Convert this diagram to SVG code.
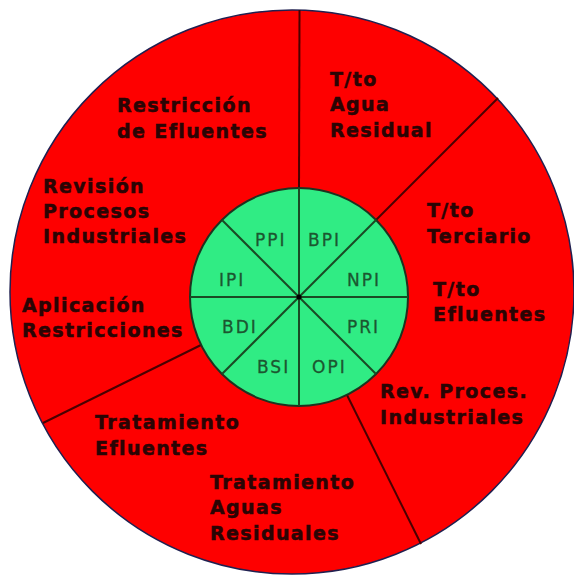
<svg xmlns="http://www.w3.org/2000/svg" width="574" height="578" viewBox="0 0 574 578">
<style>
.outer{font-family:"DejaVu Sans",Verdana,sans-serif;font-weight:bold;font-size:19px;letter-spacing:1.4px;fill:#2a0404;stroke:#2a0404;stroke-width:0.5px}
.inner{font-family:"DejaVu Sans",Verdana,sans-serif;font-size:17px;letter-spacing:2px;fill:#1c5630;stroke:#1c5630;stroke-width:0.3px}
.rline{stroke:#4a0000;stroke-width:2;fill:none}
.gline{stroke:#1a4a24;stroke-width:2;fill:none}
</style>
<rect width="574" height="578" fill="#ffffff"/>
<g id="outer-ring">
<circle cx="292" cy="292" r="282" fill="#fe0000" stroke="#202050" stroke-width="1.5"/>
</g>
<g id="outer-dividers">
<line class="rline" x1="299" y1="190" x2="299.5" y2="10"/>
<line class="rline" x1="376" y1="220" x2="498" y2="98"/>
<line class="rline" x1="201" y1="345" x2="43" y2="423"/>
<line class="rline" x1="347" y1="395" x2="421" y2="544"/>
</g>
<g id="inner-circle">
<circle cx="299" cy="297" r="109" fill="#30ec84" stroke="#1e3320" stroke-width="2"/>
<line class="gline" x1="299" y1="188" x2="299" y2="406"/>
<line class="gline" x1="190" y1="297" x2="408" y2="297"/>
<line class="gline" x1="222" y1="220" x2="376" y2="374"/>
<line class="gline" x1="376" y1="220" x2="222" y2="374"/>
<circle cx="299" cy="297" r="2.5" fill="#000"/>
</g>
<g id="inner-labels">
<text class="inner" x="255" y="246">PPI</text>
<text class="inner" x="308" y="246">BPI</text>
<text class="inner" x="219" y="286">IPI</text>
<text class="inner" x="347" y="286">NPI</text>
<text class="inner" x="222" y="333">BDI</text>
<text class="inner" x="347" y="333">PRI</text>
<text class="inner" x="257" y="373">BSI</text>
<text class="inner" x="312" y="373">OPI</text>
</g>
<g id="label-restriccion">
<text class="outer" x="117" y="112">Restricción</text>
<text class="outer" x="117" y="138">de Efluentes</text>
</g>
<g id="label-agua-residual">
<text class="outer" x="330" y="86">T/to</text>
<text class="outer" x="330" y="111">Agua</text>
<text class="outer" x="330" y="137">Residual</text>
</g>
<g id="label-revision">
<text class="outer" x="43" y="193">Revisión</text>
<text class="outer" x="43" y="218">Procesos</text>
<text class="outer" x="43" y="243">Industriales</text>
</g>
<g id="label-terciario">
<text class="outer" x="427" y="217">T/to</text>
<text class="outer" x="427" y="243">Terciario</text>
</g>
<g id="label-efluentes">
<text class="outer" x="433" y="296">T/to</text>
<text class="outer" x="433" y="321">Efluentes</text>
</g>
<g id="label-aplicacion">
<text class="outer" x="22" y="312">Aplicación</text>
<text class="outer" x="22" y="337">Restricciones</text>
</g>
<g id="label-rev-proces">
<text class="outer" x="380" y="398">Rev. Proces.</text>
<text class="outer" x="380" y="424">Industriales</text>
</g>
<g id="label-tratamiento-efluentes">
<text class="outer" x="95" y="429">Tratamiento</text>
<text class="outer" x="95" y="455">Efluentes</text>
</g>
<g id="label-tratamiento-aguas">
<text class="outer" x="210" y="489">Tratamiento</text>
<text class="outer" x="210" y="514">Aguas</text>
<text class="outer" x="210" y="540">Residuales</text>
</g>
</svg>
